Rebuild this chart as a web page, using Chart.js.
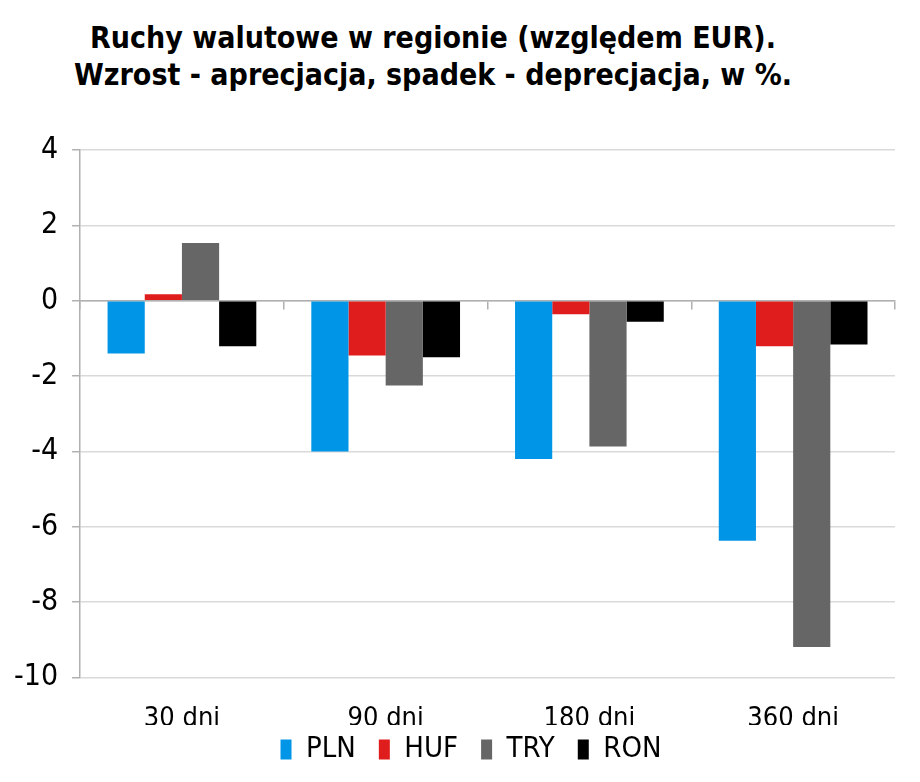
<!DOCTYPE html>
<html lang="pl">
<head>
<meta charset="UTF-8">
<title>Ruchy walutowe w regionie</title>
<script src="https://cdn.jsdelivr.net/npm/chart.js@4/dist/chart.umd.min.js"></script>
<style>
    html, body { margin: 0; padding: 0; background: #fff; }
    #wrap { position: relative; width: 920px; height: 782px; }
    #title {
        position: absolute; left: 0; top: 19px; width: 866px;
        text-align: center; font-family: "DejaVu Sans Condensed", "DejaVu Sans", sans-serif;
        font-weight: bold; font-size: 30px; line-height: 37px; color: #000;
    }
    canvas { position: absolute; left: 0; top: 0; }
</style>
</head>
<body>
<div id="wrap">
    <div id="title">Ruchy walutowe w regionie (względem EUR).<br>Wzrost - aprecjacja, spadek - deprecjacja, w %.</div>
    <canvas id="myChart" width="920" height="782"></canvas>
</div>
<script>
// Data
const categories = ['30 dni', '90 dni', '180 dni', '360 dni'];
const plnValues = [-1.4, -4.0, -4.2, -6.37];
const hufValues = [0.17, -1.45, -0.36, -1.21];
const tryValues = [1.53, -2.25, -3.87, -9.19];
const ronValues = [-1.21, -1.5, -0.56, -1.16];
const yTicks = [4, 2, 0, -2, -4, -6, -8, -10];

const labelFont = '"DejaVu Sans Condensed", "DejaVu Sans", sans-serif';

// the original legend sits a bit right of the page centre
const legendShift = {
    id: 'legendShift',
    afterLayout(chart) {
        chart.legend.left += 30;
        chart.legend.right += 30;
    }
};

const ctx = document.getElementById('myChart').getContext('2d');
const chart = new Chart(ctx, {
    type: 'bar',
    data: {
        labels: categories,
        datasets: [
            { label: 'PLN', data: plnValues, backgroundColor: '#0095e6' },
            { label: 'HUF', data: hufValues, backgroundColor: '#e01d1d' },
            { label: 'TRY', data: tryValues, backgroundColor: '#666666' },
            { label: 'RON', data: ronValues, backgroundColor: '#000000' },
        ]
    },
    options: {
        responsive: false,
        animation: false,
        layout: { padding: { top: 150, left: 0, right: 25, bottom: 8 } },
        datasets: {
            bar: { barPercentage: 1.0, categoryPercentage: 0.73 }
        },
        scales: {
            x: {
                grid: { display: false },
                border: { display: false },
                ticks: { color: '#000', font: { family: labelFont, size: 27 }, padding: 17 },
                // pull the legend up close under the category labels
                afterFit: (axis) => { axis.height -= 27; }
            },
            // second category axis sitting on the zero line, only for the separator ticks
            x2: {
                type: 'category',
                position: { y: 0 },
                offset: true,
                grid: { offset: true, drawOnChartArea: false, tickLength: 8, color: '#b0b0b0', lineWidth: 1.5 },
                border: { display: true, color: '#b0b0b0', width: 1.5 },
                ticks: { display: false }
            },
            y: {
                min: Math.min(...yTicks),
                max: Math.max(...yTicks),
                afterBuildTicks: (axis) => { axis.ticks = yTicks.map(v => ({ value: v })); },
                grid: { color: '#d9d9d9', lineWidth: 1.5, tickLength: 8, tickColor: '#b0b0b0' },
                border: { display: true, color: '#b0b0b0', width: 1.5 },
                ticks: { color: '#000', font: { family: labelFont, size: 30 }, padding: 14 }
            }
        },
        plugins: {
            title: { display: false },
            tooltip: { enabled: false },
            legend: {
                position: 'bottom',
                labels: {
                    color: '#000',
                    font: { family: labelFont, size: 29 },
                    boxWidth: 11,
                    boxHeight: 20,
                    padding: 10,
                    // trailing en space widens each item like in the original
                    generateLabels: (c) => Chart.defaults.plugins.legend.labels.generateLabels(c)
                        .map(item => ({ ...item, text: item.text + '\u2002' }))
                }
            }
        }
    },
    plugins: [legendShift]
});
</script>
</body>
</html>
